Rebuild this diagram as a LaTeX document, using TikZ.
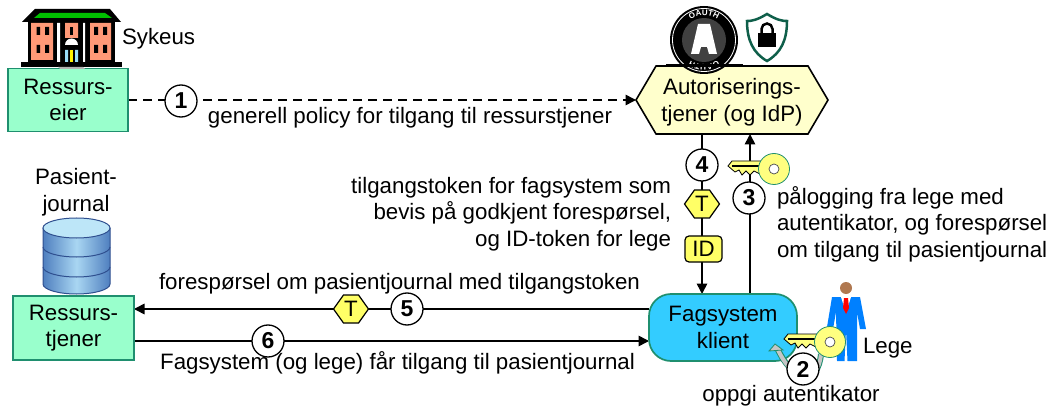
\documentclass[tikz,border=0pt]{standalone}
\usepackage{fontspec}
\setmainfont{Liberation Sans}
\usetikzlibrary{arrows.meta,shapes.symbols,backgrounds,decorations.text}
\definecolor{mint}{HTML}{99FFCC}
\definecolor{mintedge}{HTML}{1F8F6F}
\definecolor{cream}{HTML}{FFFFCC}
\definecolor{skyfill}{HTML}{33CCFF}
\definecolor{tokenyellow}{HTML}{FFFF66}
\definecolor{keyyellow}{HTML}{FFFF80}
\definecolor{salmon}{HTML}{FF9977}
\definecolor{shieldgreen}{HTML}{0F5F4A}
\definecolor{suitblue}{HTML}{0080FF}
\definecolor{dbside}{HTML}{4F7FBF}
\definecolor{dbmid}{HTML}{A9D6F2}
\definecolor{dbline}{HTML}{2F4F8F}
\definecolor{dbtop}{HTML}{BDE6F8}
\definecolor{headbrown}{HTML}{B07850}
\tikzset{
  x=1pt,y=-1pt,
  every node/.style={font=\fontsize{22.3}{26.6}\selectfont,inner sep=0pt,outer sep=0pt},
  box/.style={draw=mintedge,line width=1.5pt,fill=mint,minimum width=120pt,minimum height=63pt,align=center},
  hexa/.style={signal,signal to=east and west,signal pointer angle=119,draw=black,line width=1.6pt,fill=cream,minimum width=192pt,minimum height=68pt,align=center},
  client/.style={draw=mintedge,line width=1.7pt,fill=skyfill,rounded corners=22pt,minimum width=148pt,minimum height=67pt,align=center},
  num/.style={circle,draw=black,line width=1.3pt,fill=white,minimum size=32pt,font=\fontsize{23}{23}\selectfont\bfseries},
  ttoken/.style={signal,signal to=east and west,signal pointer angle=109,draw=black,line width=1.2pt,fill=tokenyellow,minimum width=35pt,minimum height=28pt},
  idtoken/.style={draw=black,line width=1.2pt,fill=tokenyellow,rounded corners=4pt,minimum width=37pt,minimum height=26pt},
  lab/.style={align=left},
  conn/.style={line width=1.6pt,draw=black},
  head/.style={-{Triangle[length=10.5pt,width=10.5pt]}},
}
\newcommand{\keyat}[2]{%
  \begin{scope}[shift={(#1,#2)}]
    \fill[keyyellow,draw=black,line width=.8pt] (-12,-8) -- (-42,-8) -- (-46,-3) -- (-39,3) -- (-35,1) -- (-32,6) -- (-28,2) -- (-24,6) -- (-20,2) -- (-12,6) -- cycle;
    \draw[black,line width=2pt] (-42,-3) -- (-12,-3);
    \fill[keyyellow,draw=mintedge,line width=.8pt] (0,0) circle[radius=15.5];
    \fill[white,draw=black!70,line width=.7pt] (0,0) circle[radius=5];
  \end{scope}}
\begin{document}
\begin{tikzpicture}
\useasboundingbox (0,0) rectangle (1052,406);
% main nodes
\node[box] (eier) at (68,100) {Ressurs-\\eier};
\node[box,minimum width=121pt,minimum height=64pt] (tjener) at (73.5,328) {Ressurs-\\tjener};
\node[hexa] (authz) at (732,100) {\rule{0pt}{21pt}Autoriserings-\\tjener (og IdP)};
\node[client] (klient) at (723,327.5) {Fagsystem\\klient};
% marker nodes
\node[num] (c1) at (181,101) {1};
\node[num] (c4) at (702,165) {4};
\node[ttoken] (t1) at (702,204) {T};
\node[idtoken] (id) at (703.5,249) {ID};
\node[ttoken] (t2) at (351,309) {T};
\node[num] (c5) at (407,309) {5};
\node[num] (c6) at (268,341) {6};
\coordinate (x3) at (750,198);
% connectors
\begin{scope}[on background layer]
\draw[conn,head,dashed,dash pattern=on 9pt off 6pt] (eier.east) -- (authz.west);
\draw[conn,head] (authz.south -| c4) -- (klient.north -| c4);
\draw[conn,head] (klient.north -| x3) -- (authz.south -| x3);
\draw[conn,head] (klient.west |- c5) -- (tjener.east |- c5);
\draw[conn,head] (tjener.east |- c6) -- (klient.west |- c6);
\end{scope}
\keyat{774}{169}
\node[num] (c3) at (749,198) {3};
% labels
\node[lab,anchor=west] (sykeus) at (122,38.5) {Sykeus};
\node[align=center] (pj) at (76,192) {Pasient-\\journal};
\node[lab,anchor=center] (l1) at (410,118) {generell policy for tilgang til ressurstjener};
\node[align=right,anchor=east] (l4) at (671,214) {tilgangstoken for fagsystem som\\bevis på godkjent forespørsel,\\og ID-token for lege};
\node[lab,anchor=west] (l3) at (777,224) {pålogging fra lege med\\autentikator, og forespørsel\\om tilgang til pasientjournal};
\node[lab] (l5) at (399.5,284) {forespørsel om pasientjournal med tilgangstoken};
\node[lab] (l6) at (397.5,363) {Fagsystem (og lege) får tilgang til pasientjournal};
\node[lab,anchor=west] (lege) at (863,348) {Lege};
\node[lab] (l2) at (791,396) {oppgi autentikator};
% building
\fill[black] (22,22) -- (35,9) -- (110,9) -- (121,22) -- cycle;
\fill[black] (28,22) rectangle (115,63);
\fill[black] (21,62) rectangle (122,67);
\fill[gray!60] (58,67) -- (60,69) -- (85,69) -- (83,67) -- cycle;
\fill[green!75!black] (40,13) -- (105,13) -- (112,18) -- (34,18) -- cycle;
\fill[salmon] (31,23) rectangle (53,60) (65,23) rectangle (78,45) (90,23) rectangle (111,60);
\fill[white] (57,23) rectangle (60,62) (83,23) rectangle (85,62);
\fill[black] (36.5,27) rectangle (40,35) (45,27) rectangle (49,35) (36.5,45) rectangle (40,53) (45,45) rectangle (49,53);
\fill[black] (70,27) rectangle (73,35);
\fill[black] (94,27) rectangle (98,35) (103,27) rectangle (107,35) (94,45) rectangle (98,53) (103,45) rectangle (107,53);
\fill[black] (63,38) rectangle (80,62);
\fill[white] (65,45) arc[start angle=180,end angle=360,radius=6.5] -- cycle;
\fill[cyan!40] (65,50) rectangle (68,62) (75,50) rectangle (78,62);
\fill[yellow] (70,50) rectangle (73,62);
% oauth badge
\fill[black] (704,40) circle[radius=34];
\draw[white,line width=.8pt] (704,40) circle[radius=31.5];
\fill[gray!50!black] (704,40) circle[radius=22];
\fill[white,even odd rule] (691,54) -- (698,24) -- (710,24) -- (717,54) -- (709,54) -- (707,47) -- (701,47) -- (699,54) -- cycle;
\path[postaction={decorate,decoration={text along path,text align=center,text={|\fontsize{8}{8}\selectfont\bfseries\color{white}|OAUTH}}}] (704,40) ++(220:24.5) arc[start angle=220,end angle=320,radius=24.5];
\path[postaction={decorate,decoration={text along path,text align=center,text={|\fontsize{8}{8}\selectfont\bfseries\color{white}|OAUTH}}}] (704,40) ++(40:24.5) arc[start angle=40,end angle=140,radius=24.5];
\fill[black] (666,64.5) rectangle (743,67.5);
% shield
\draw[shieldgreen,line width=2.5pt,fill=white] (767,14) .. controls (757,20) and (752,21) .. (747,21) .. controls (747,40) and (753,53) .. (767,61) .. controls (781,53) and (787,40) .. (787,21) .. controls (782,21) and (777,20) .. (767,14) -- cycle;
\fill[black] (758,33) rectangle (776,47);
\draw[black,line width=2.5pt] (761.5,33) -- (761.5,29) arc[start angle=180,end angle=360,radius=5.5] -- (772.5,33);
% database
\path[left color=dbside,right color=dbside,middle color=dbmid] (43,228) -- (43,284) arc[start angle=180,end angle=0,x radius=33.5,y radius=10] -- (110,228) -- cycle;
\draw[dbline,line width=1pt] (43,228) -- (43,284) arc[start angle=180,end angle=0,x radius=33.5,y radius=10] -- (110,228);
\draw[dbline,line width=1pt] (43,247) arc[start angle=180,end angle=0,x radius=33.5,y radius=10];
\draw[dbline,line width=1pt] (43,267) arc[start angle=180,end angle=0,x radius=33.5,y radius=10];
\draw[dbline,line width=1pt,fill=dbtop] (76.5,228) ellipse[x radius=33.5,y radius=10];
% person
\fill[suitblue] (832,297) -- (860,297) -- (866,329) -- (860,329) -- (857,312) -- (857,361) -- (847.5,361) -- (846,330) -- (844.5,361) -- (837,361) -- (836,312) -- (833,329) -- (827,327) -- cycle;
\fill[white] (841,297) -- (851,297) -- (846,313) -- cycle;
\fill[red] (844,298) -- (848,298) -- (849,308) -- (846,314) -- (843,308) -- cycle;
\fill[headbrown] (846,288) circle[radius=6];
% curved arrow by step 2
\draw[mintedge,line width=6pt] (821,354) .. controls (818,385) and (795,385) .. (777,348);
\draw[gray!45,line width=4pt] (821,354) .. controls (818,385) and (795,385) .. (778,350);
\fill[gray!45,draw=mintedge,line width=.8pt] (775,344) -- (769,351) -- (783,350) -- cycle;
\keyat{830}{342}
\node[num] (c2) at (803,369) {2};
\end{tikzpicture}
\end{document}
